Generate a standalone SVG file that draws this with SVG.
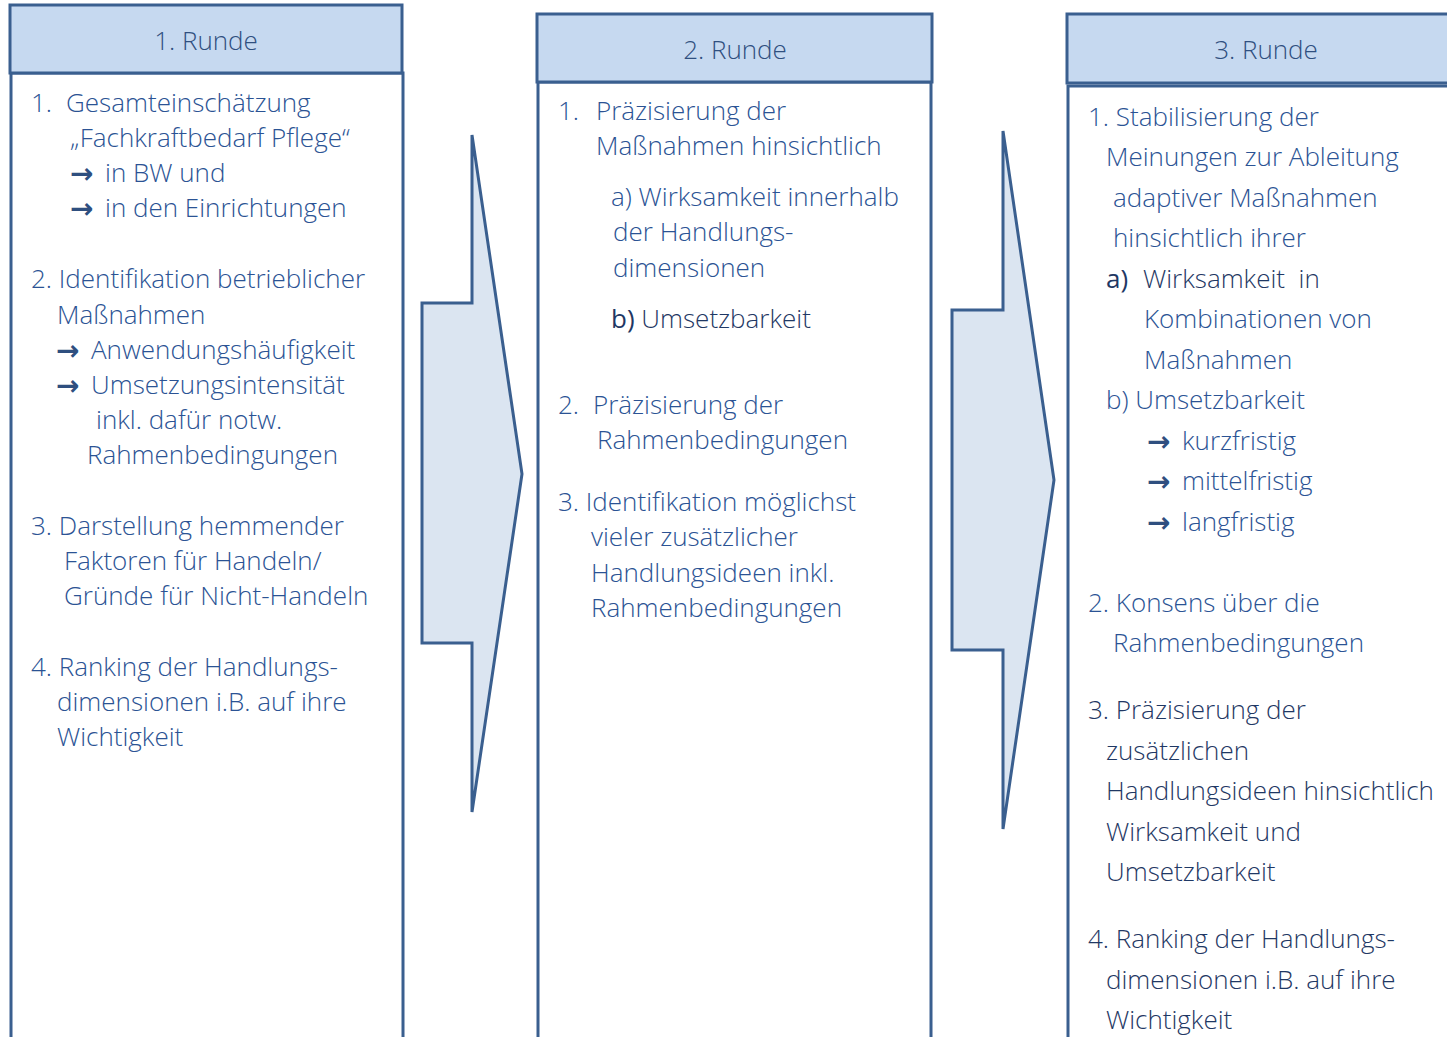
<svg xmlns="http://www.w3.org/2000/svg" width="1447" height="1037" viewBox="0 0 1447 1037">
<style>
.hdr{fill:#C6D9F0;stroke:#3A5F8F;stroke-width:3}
.body{fill:#FFFFFF;stroke:#3A5F8F;stroke-width:3}
.arr{fill:#DBE5F1;stroke:#3A5F8F;stroke-width:3;stroke-linejoin:miter}
text{font-family:"Open Sans",Lato,"Liberation Sans",sans-serif;font-size:26px;font-weight:300;fill:#2B5394}
.h{text-anchor:middle;fill:#2F4F7F}
.dk{fill:#1F3864}
.b{font-weight:400}
.pre{white-space:pre}
.ar{font-family:"DejaVu Sans",sans-serif;font-weight:bold;font-size:28px;fill:#2F4F7F}
</style>
<rect width="1447" height="1037" fill="#FFFFFF"/>
<g id="connectors">
<polygon class="arr" points="472,135 522,474 472,812 472,643 422,643 422,303 472,303"/>
<polygon class="arr" points="1003,131 1054,480 1003,829 1003,650 952,650 952,310 1003,310"/>
</g>
<g id="runde1">
<rect class="body" x="11" y="73" width="392" height="980"/>
<rect class="hdr" x="10" y="5" width="392" height="68"/>
<text class="h" x="206" y="50">1. Runde</text>
<text x="31" y="112">1.</text><text x="66" y="112">Gesamteinschätzung</text>
<text x="70" y="147">„Fachkraftbedarf Pflege“</text>
<text class="ar" x="70" y="183">→</text><text x="105" y="182">in BW und</text>
<text class="ar" x="70" y="218">→</text><text x="105" y="217">in den Einrichtungen</text>
<text x="31" y="288">2. Identifikation betrieblicher</text>
<text x="57" y="324">Maßnahmen</text>
<text class="ar" x="56" y="360">→</text><text x="91" y="359">Anwendungshäufigkeit</text>
<text class="ar" x="56" y="395">→</text><text x="91" y="394">Umsetzungsintensität</text>
<text x="96" y="429">inkl. dafür notw.</text>
<text x="87" y="464">Rahmenbedingungen</text>
<text x="31" y="535">3. Darstellung hemmender</text>
<text x="64" y="570">Faktoren für Handeln/</text>
<text x="64" y="605">Gründe für Nicht-Handeln</text>
<text x="31" y="676">4. Ranking der Handlungs-</text>
<text x="57" y="711">dimensionen i.B. auf ihre</text>
<text x="57" y="746">Wichtigkeit</text>
</g>
<g id="runde2">
<rect class="body" x="538" y="82" width="393" height="980"/>
<rect class="hdr" x="537" y="14" width="395" height="68"/>
<text class="h" x="735" y="59">2. Runde</text>
<text x="558" y="120">1.</text><text x="596" y="120">Präzisierung der</text>
<text x="596" y="155">Maßnahmen hinsichtlich</text>
<text x="611" y="206">a) Wirksamkeit innerhalb</text>
<text x="613" y="241">der Handlungs-</text>
<text x="613" y="277">dimensionen</text>
<text class="dk" x="611" y="328"><tspan class="b">b)</tspan> Umsetzbarkeit</text>
<text x="558" y="414">2.</text><text x="593" y="414">Präzisierung der</text>
<text x="597" y="449">Rahmenbedingungen</text>
<text x="558" y="511">3. Identifikation möglichst</text>
<text x="591" y="546">vieler zusätzlicher</text>
<text x="591" y="582">Handlungsideen inkl.</text>
<text x="591" y="617">Rahmenbedingungen</text>
</g>
<g id="runde3">
<rect class="body" x="1068" y="86" width="400" height="980"/>
<rect class="hdr" x="1067" y="14" width="400" height="69"/>
<text class="h" x="1266" y="59">3. Runde</text>
<text x="1088" y="126">1. Stabilisierung der</text>
<text x="1106" y="166">Meinungen zur Ableitung</text>
<text x="1113" y="207">adaptiver Maßnahmen</text>
<text x="1113" y="247">hinsichtlich ihrer</text>
<text class="dk b" x="1106" y="288">a)</text><text class="dk pre" x="1143" y="288">Wirksamkeit  in</text>
<text x="1144" y="328">Kombinationen von</text>
<text x="1144" y="369">Maßnahmen</text>
<text x="1106" y="409">b) Umsetzbarkeit</text>
<text class="ar" x="1147" y="451">→</text><text x="1182" y="450">kurzfristig</text>
<text class="ar" x="1147" y="491">→</text><text x="1182" y="490">mittelfristig</text>
<text class="ar" x="1147" y="532">→</text><text x="1182" y="531">langfristig</text>
<text x="1088" y="612">2. Konsens über die</text>
<text x="1113" y="652">Rahmenbedingungen</text>
<text class="dk" x="1088" y="719">3. Präzisierung der</text>
<text class="dk" x="1106" y="760">zusätzlichen</text>
<text class="dk" x="1106" y="800">Handlungsideen hinsichtlich</text>
<text class="dk" x="1106" y="841">Wirksamkeit und</text>
<text class="dk" x="1106" y="881">Umsetzbarkeit</text>
<text class="dk" x="1088" y="948">4. Ranking der Handlungs-</text>
<text class="dk" x="1106" y="989">dimensionen i.B. auf ihre</text>
<text class="dk" x="1106" y="1029">Wichtigkeit</text>
</g>
</svg>
